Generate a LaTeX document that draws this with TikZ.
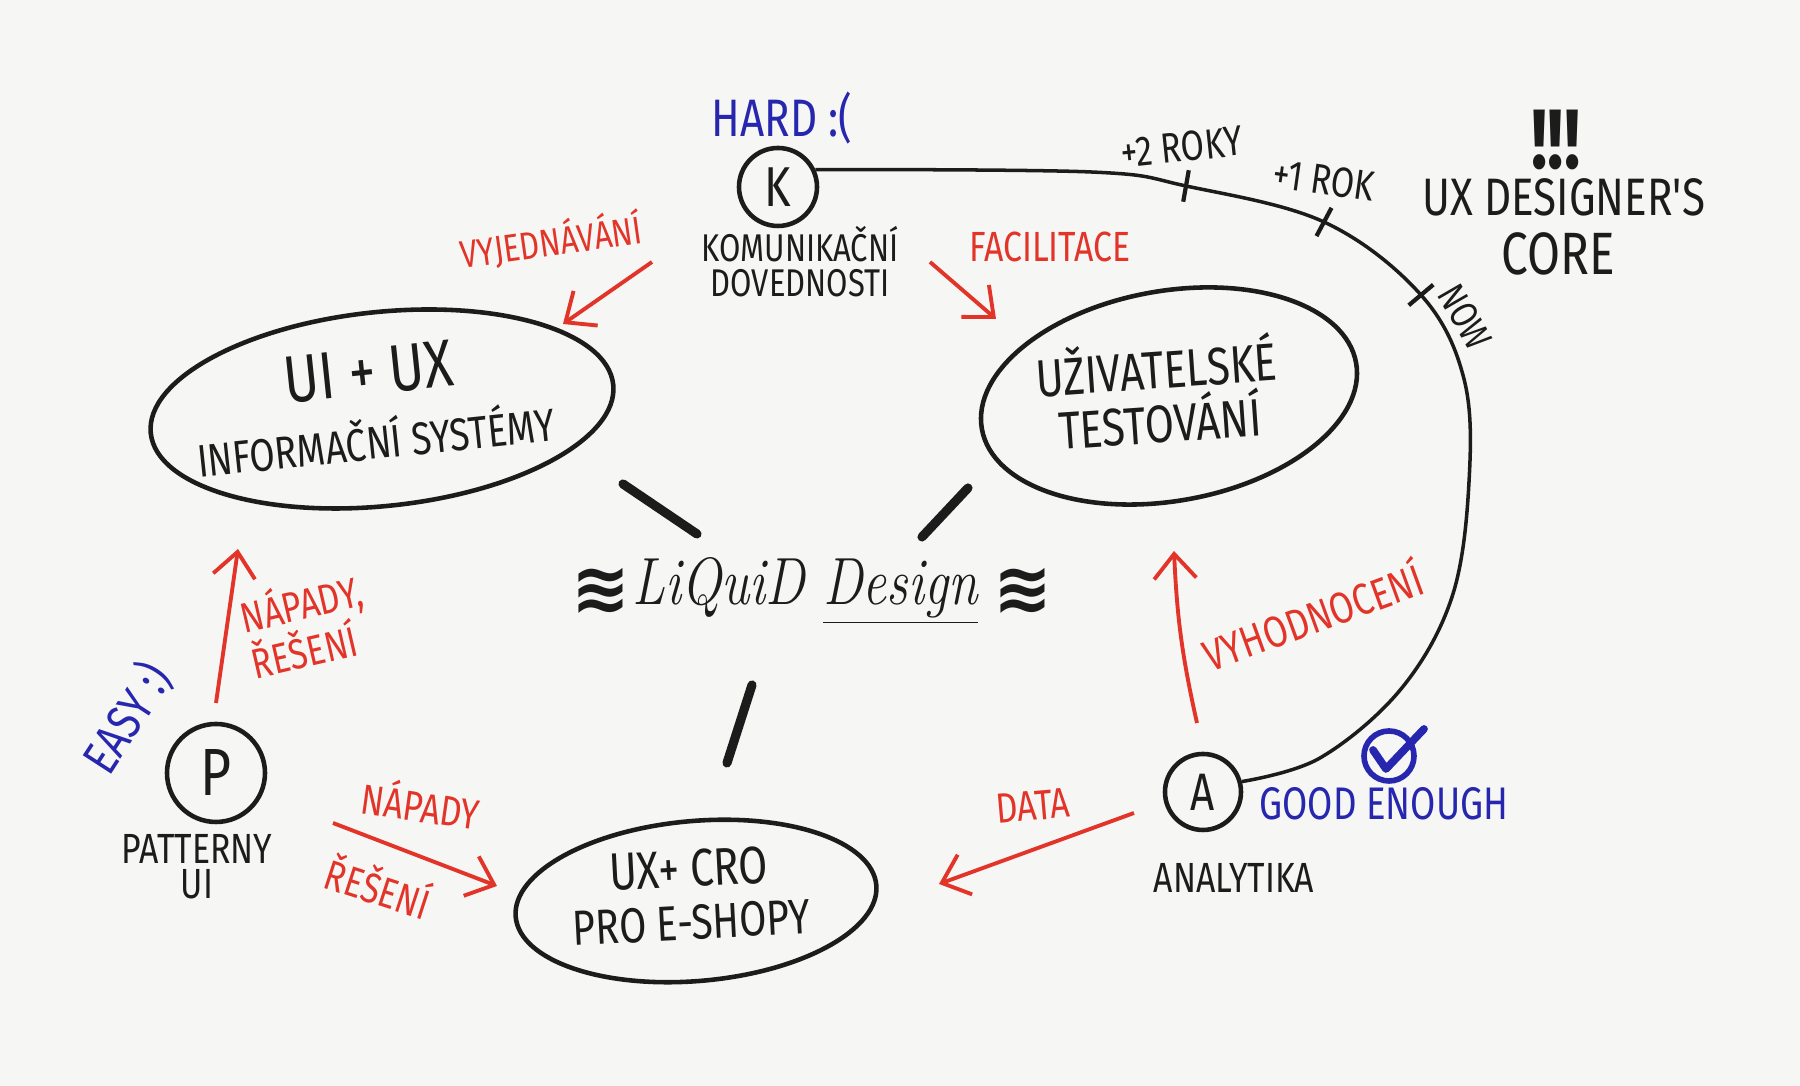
\documentclass[tikz,border=0pt]{standalone}
\usepackage{fontspec}
\usetikzlibrary{arrows.meta,shapes.geometric}
\newfontfamily\handfont[FakeStretch=0.8]{Fira Sans}
\newfontfamily\liquidfont[FakeStretch=0.8]{Latin Modern Roman}
\newfontfamily\wavefont{DejaVu Sans}
\newcommand{\inksize}[2]{\fontsize{#1}{#2}\selectfont}
\definecolor{inkred}{RGB}{226,52,40}
\definecolor{inkblue}{RGB}{38,38,175}
\definecolor{inkblack}{RGB}{28,28,28}
\definecolor{paper}{RGB}{246,246,244}

\begin{document}
\begin{tikzpicture}[
    ink/.style={draw=inkblack, line width=1.3pt},
    blob/.style={ink, ellipse, inner sep=0pt},
    letter/.style={ink, circle, inner sep=0pt, text=inkblack},
    redarrow/.style={draw=inkred, line width=1.1pt, -{Straight Barb[length=7pt,width=12pt]}},
    link/.style={draw=inkblack, line width=2.6pt, line cap=round},
    txt/.style={text=inkblack, font=\handfont, inner sep=1pt},
    redtxt/.style={text=inkred, font=\handfont, inner sep=1pt},
    bluetxt/.style={text=inkblue, font=\handfont, inner sep=1pt}
]
    % Paper
    \fill[paper] (0,0) rectangle (18,10.86);

    % Skills
    \node[letter, minimum size=0.78cm, font=\handfont\inksize{16}{16}] (k) at (7.78,8.99) {K};
    \node[bluetxt, font=\handfont\inksize{15}{15}] (hard) at (7.82,9.68) {HARD :(};
    \node[txt, align=center, font=\handfont\inksize{11}{10}] (kom) at (8.00,8.24) {KOMUNIKAČNÍ\\DOVEDNOSTI};

    \node[letter, minimum size=0.98cm, font=\handfont\inksize{19}{19}] (p) at (2.16,3.13) {P};
    \node[bluetxt, rotate=57, font=\handfont\inksize{14}{14}] (easy) at (1.27,3.68) {EASY :)};
    \node[txt, align=center, font=\handfont\inksize{12}{10}] (patterny) at (1.97,2.19) {PATTERNY\\UI};

    \node[letter, minimum size=0.76cm, font=\handfont\inksize{15}{15}] (a) at (12.03,2.94) {A};
    \node[txt, font=\handfont\inksize{12}{12}] (analytika) at (12.34,2.08) {ANALYTIKA};
    \node[bluetxt, font=\handfont\inksize{13}{13}] (good) at (13.84,2.82) {GOOD ENOUGH};
    \node[circle, draw=inkblue, line width=1.6pt, minimum size=0.5cm] (tick) at (13.89,3.30) {};
    \draw[inkblue, line width=2.2pt, line cap=round, line join=round]
        ([shift={(-0.16,0.06)}]tick.center) -- ([shift={(-0.03,-0.13)}]tick.center)
        -- ([shift={(0.35,0.27)}]tick.center);

    % Fields
    \node[blob, minimum width=4.65cm, minimum height=1.94cm, rotate=6] (uiux) at (3.82,6.77) {};
    \node[txt, align=center, rotate=6, font=\handfont\inksize{13}{18.5}] (uiuxtext) at (3.72,6.82)
        {{\inksize{19}{19}UI + UX}\\INFORMAČNÍ SYSTÉMY};
    \node[blob, minimum width=3.8cm, minimum height=2.1cm, rotate=10] (test) at (11.69,6.90) {};
    \node[txt, align=center, rotate=4, font=\handfont\inksize{15}{15.4}] (testtext) at (11.58,6.94)
        {UŽIVATELSKÉ\\TESTOVÁNÍ};
    \node[blob, minimum width=3.62cm, minimum height=1.6cm, rotate=5] (cro) at (6.96,1.85) {};
    \node[txt, align=center, rotate=3, font=\handfont\inksize{14}{15}] (crotext) at (6.90,1.91)
        {{\inksize{15}{15}UX+ CRO}\\PRO E-SHOPY};

    % Center
    \node[text=inkblack, font=\liquidfont\itshape\inksize{19}{19}] (liquid) at (8.05,4.95) {LiQuiD \underline{Design}};
    \node[text=inkblack, font=\wavefont\bfseries\inksize{20}{20}] (waveL) at (6.01,4.95) {≋};
    \node[text=inkblack, font=\wavefont\bfseries\inksize{20}{20}] (waveR) at (10.23,4.95) {≋};
    \coordinate (linkA1) at (6.23,6.02); \coordinate (linkA2) at (6.97,5.52);
    \coordinate (linkB1) at (9.68,5.98); \coordinate (linkB2) at (9.22,5.49);
    \coordinate (linkC1) at (7.52,4.01); \coordinate (linkC2) at (7.27,3.23);
    \draw[link] (linkA1) -- (linkA2);
    \draw[link] (linkB1) -- (linkB2);
    \draw[link] (linkC1) -- (linkC2);

    % Red arrows and labels
    \coordinate (vyjA) at (6.52,8.24); \coordinate (vyjB) at (5.63,7.62);
    \coordinate (facA) at (9.30,8.24); \coordinate (facB) at (9.96,7.67);
    \coordinate (upA) at (2.16,3.83);  \coordinate (upB) at (2.38,5.37);
    \coordinate (napA) at (3.33,2.63); \coordinate (napB) at (4.97,2.00);
    \coordinate (datA) at (11.34,2.73); \coordinate (datB) at (9.39,2.02);
    \coordinate (vyhA) at (11.97,3.63); \coordinate (vyhB) at (11.74,5.35);
    \draw[redarrow] (vyjA) -- (vyjB);
    \draw[redarrow] (facA) -- (facB);
    \draw[redarrow] (upA) -- (upB);
    \draw[redarrow] (napA) -- (napB);
    \draw[redarrow] (datA) -- (datB);
    \draw[redarrow] (vyhA) to[bend left=5] (vyhB);
    \node[redtxt, rotate=8, font=\handfont\inksize{11}{11}] (vyj) at (5.51,8.45) {VYJEDNÁVÁNÍ};
    \node[redtxt, font=\handfont\inksize{12}{12}] (fac) at (10.50,8.39) {FACILITACE};
    \node[redtxt, rotate=13, align=left, font=\handfont\inksize{12}{13.5}] (napady) at (3.06,4.62) {NÁPADY,\\ŘEŠENÍ};
    \node[redtxt, rotate=-8, font=\handfont\inksize{12}{12}] (napadyB) at (4.21,2.83) {NÁPADY};
    \node[redtxt, rotate=-18, font=\handfont\inksize{12}{12}] (reseniB) at (3.79,2.00) {ŘEŠENÍ};
    \node[redtxt, rotate=5, font=\handfont\inksize{12}{12}] (data) at (10.33,2.80) {DATA};
    \node[redtxt, rotate=20, font=\handfont\inksize{12.5}{12.5}] (vyh) at (13.12,4.72) {VYHODNOCENÍ};

    % Timeline K -> A
    \coordinate (flat) at (10.91,9.14);
    \coordinate (year2) at (11.86,9.00);
    \coordinate (year1) at (13.24,8.64);
    \coordinate (today) at (14.21,7.91);
    \draw[inkblack, line width=1pt] plot[smooth, tension=0.6] coordinates {(k.25) (flat) (year2) (year1) (today)
        (14.64,7.07) (14.69,6.04) (14.52,4.89) (14.01,3.97) (13.20,3.28) (a.15)};
    \foreach \c/\ang in {year2/80, year1/62, today/40}
        \draw[inkblack, line width=1.2pt] ([shift={(\ang:0.16)}]\c) -- ([shift={(\ang:-0.16)}]\c);
    \node[txt, rotate=6, font=\handfont\inksize{12}{12}] (roky) at (11.82,9.39) {+2 ROKY};
    \node[txt, rotate=-8, font=\handfont\inksize{12}{12}] (rok) at (13.24,9.06) {+1 ROK};
    \node[txt, rotate=-60, font=\handfont\inksize{11}{11}] (nowtext) at (14.65,7.69) {NOW};

    % Core
    \node[txt, font=\handfont\bfseries\inksize{24}{24}] (bang) at (15.56,9.46) {!!!};
    \node[txt, font=\handfont\inksize{15}{15}] (designer) at (15.64,8.89) {UX DESIGNER'S};
    \node[txt, font=\handfont\inksize{17}{17}] (core) at (15.58,8.32) {CORE};
\end{tikzpicture}
\end{document}
